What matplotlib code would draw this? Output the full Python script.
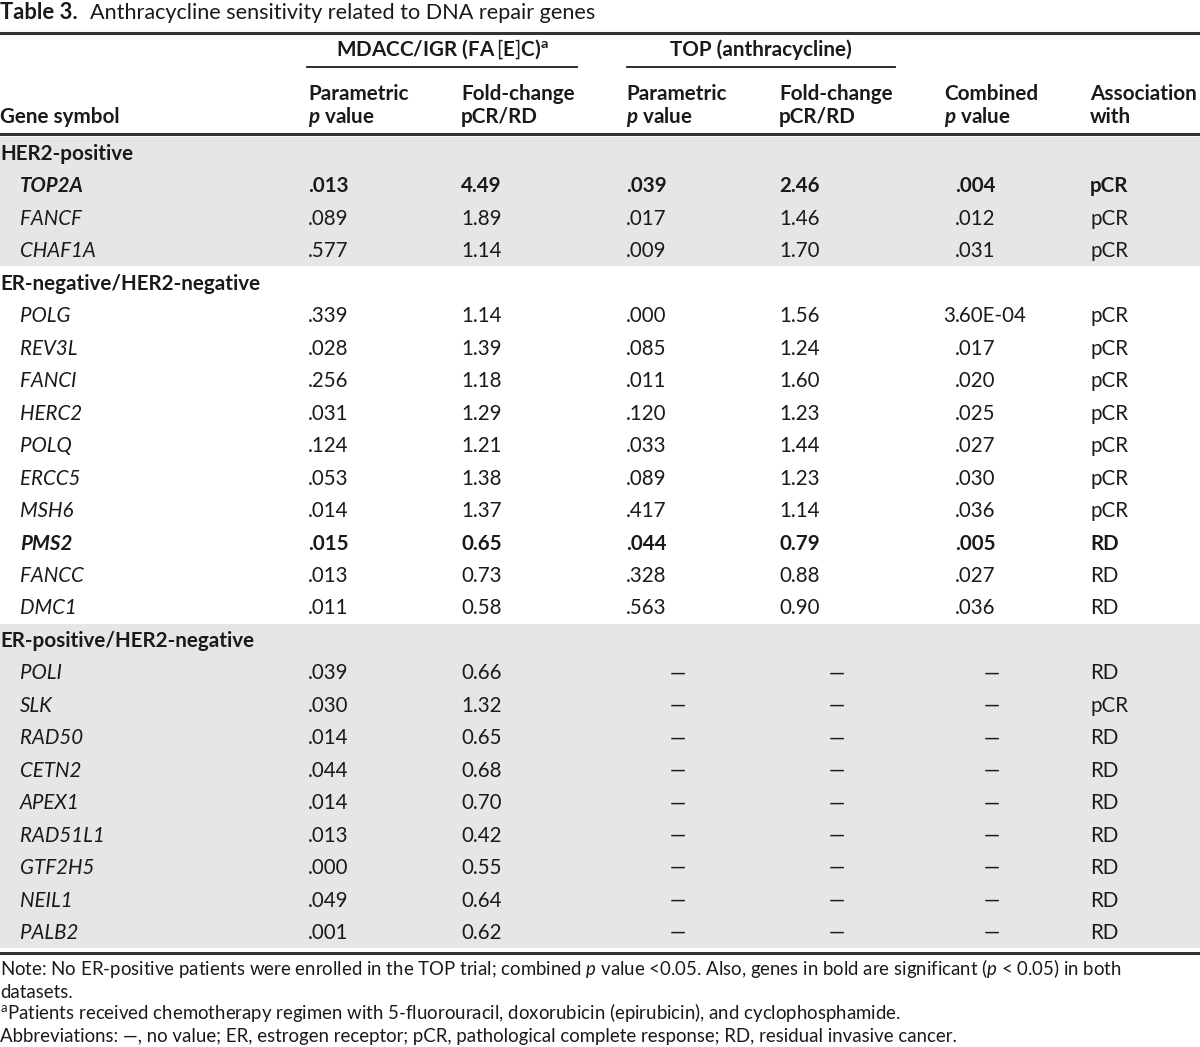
import matplotlib
matplotlib.use("Agg")
import matplotlib.pyplot as plt

plt.rcParams['font.family'] = ['Lato', 'DejaVu Sans']
plt.rcParams['mathtext.fontset'] = 'custom'
plt.rcParams['mathtext.rm'] = 'Lato'
plt.rcParams['mathtext.it'] = 'Lato:italic'
plt.rcParams['mathtext.bf'] = 'Lato:bold'
plt.rcParams['mathtext.bfit'] = 'Lato:italic:bold'

# table content
group_names = ["HER2-positive", "ER-negative/HER2-negative", "ER-positive/HER2-negative"]
group_shaded = [True, False, True]
genes = ["TOP2A", "FANCF", "CHAF1A",
         "POLG", "REV3L", "FANCI", "HERC2", "POLQ", "ERCC5", "MSH6", "PMS2", "FANCC", "DMC1",
         "POLI", "SLK", "RAD50", "CETN2", "APEX1", "RAD51L1", "GTF2H5", "NEIL1", "PALB2"]
gene_group = [0, 0, 0,
              1, 1, 1, 1, 1, 1, 1, 1, 1, 1,
              2, 2, 2, 2, 2, 2, 2, 2, 2]
mdacc_p = [".013", ".089", ".577",
           ".339", ".028", ".256", ".031", ".124", ".053", ".014", ".015", ".013", ".011",
           ".039", ".030", ".014", ".044", ".014", ".013", ".000", ".049", ".001"]
mdacc_fc = ["4.49", "1.89", "1.14",
            "1.14", "1.39", "1.18", "1.29", "1.21", "1.38", "1.37", "0.65", "0.73", "0.58",
            "0.66", "1.32", "0.65", "0.68", "0.70", "0.42", "0.55", "0.64", "0.62"]
top_p = [".039", ".017", ".009",
         ".000", ".085", ".011", ".120", ".033", ".089", ".417", ".044", ".328", ".563",
         None, None, None, None, None, None, None, None, None]
top_fc = ["2.46", "1.46", "1.70",
          "1.56", "1.24", "1.60", "1.23", "1.44", "1.23", "1.14", "0.79", "0.88", "0.90",
          None, None, None, None, None, None, None, None, None]
combined_p = [".004", ".012", ".031",
              "3.60E-04", ".017", ".020", ".025", ".027", ".030", ".036", ".005", ".027", ".036",
              None, None, None, None, None, None, None, None, None]
association = ["pCR", "pCR", "pCR",
               "pCR", "pCR", "pCR", "pCR", "pCR", "pCR", "pCR", "RD", "RD", "RD",
               "RD", "pCR", "RD", "RD", "RD", "RD", "RD", "RD", "RD"]
bold_genes = ["TOP2A", "PMS2"]

footnotes = [
    r"Note: No ER-positive patients were enrolled in the TOP trial; combined $\mathit{p}$ value <0.05. "
    r"Also, genes in bold are significant ($\mathit{p}$ < 0.05) in both",
    "datasets.",
    r"$^{\mathrm{a}}$Patients received chemotherapy regimen with 5-fluorouracil, doxorubicin (epirubicin), and cyclophosphamide.",
    "Abbreviations: \u2014, no value; ER, estrogen receptor; pCR, pathological complete response; RD, residual invasive cancer.",
]

ink = "#1a1a1a"
shade = "#e6e6e6"
body_size = 14.8
head_size = 14.9

fig = plt.figure(figsize=(12, 10.47), dpi=100)
ax = fig.add_axes([0, 0, 1, 1])
ax.set_xlim(0, 1200)
ax.set_ylim(1047, 0)
ax.axis('off')

# column x positions (pixels)
col_x = [308, 461, 626, 779, 955, 1090]
dash_x = [678, 837, 992]

# title
ax.text(0, 19, "Table 3.", fontsize=15.8, fontweight='bold', color=ink, va='baseline')
ax.text(90, 19, "Anthracycline sensitivity related to DNA repair genes", fontsize=15.6,
        color=ink, va='baseline')

# rules
ax.plot([0, 1200], [33, 33], color="#333333", lw=2.2)
ax.plot([0, 1200], [134, 134], color="#333333", lw=2.2)
ax.plot([0, 1200], [953, 953], color="#333333", lw=2.2)
ax.plot([307, 577], [67, 67], color=ink, lw=1.3)
ax.plot([627, 895], [67, 67], color=ink, lw=1.3)

# headers
ax.text(442, 56, r"MDACC/IGR (FA$\,\mathrm{[}\mathbf{E}\mathrm{]}$C)$^{\mathbf{a}}$", fontsize=head_size,
        fontweight='bold', color=ink, ha='center', va='baseline')
ax.text(761, 56, "TOP (anthracycline)", fontsize=head_size, fontweight='bold', color=ink,
        ha='center', va='baseline')
hdr_top = ["Parametric", "Fold-change", "Parametric", "Fold-change", "Combined", "Association"]
hdr_bot = [r"$\mathbfit{p}$ value", "pCR/RD", r"$\mathbfit{p}$ value", "pCR/RD", r"$\mathbfit{p}$ value", "with"]
hdr_x = [308, 461, 626, 779, 944, 1090]
for x, t1, t2 in zip(hdr_x, hdr_top, hdr_bot):
    ax.text(x, 100, t1, fontsize=head_size, fontweight='bold', color=ink, va='baseline')
    ax.text(x, 123, t2, fontsize=head_size, fontweight='bold', color=ink, va='baseline')
ax.text(0, 123, "Gene symbol", fontsize=head_size, fontweight='bold', color=ink, va='baseline')

# body rows
y0 = 153
step = 32.46
row = 0
for g, name in enumerate(group_names):
    idx = [i for i, gg in enumerate(gene_group) if gg == g]
    y_start = y0 + row * step
    y_end = y0 + (row + len(idx)) * step
    if group_shaded[g]:
        ax.axhspan(y_start - 16, y_end + 16, color=shade, zorder=0, lw=0)
    ax.text(0, y_start + 7, name, fontsize=head_size, fontweight='bold', color=ink, va='baseline')
    row += 1
    for i in idx:
        y = y0 + row * step + 7
        w = 'bold' if genes[i] in bold_genes else 'normal'
        ax.text(20, y, genes[i], fontsize=body_size, fontstyle='italic', fontweight=w,
                color=ink, va='baseline')
        ax.text(col_x[0], y, mdacc_p[i], fontsize=body_size, fontweight=w, color=ink, va='baseline')
        ax.text(col_x[1], y, mdacc_fc[i], fontsize=body_size, fontweight=w, color=ink, va='baseline')
        if top_p[i] is None:
            for dx in dash_x:
                ax.text(dx, y, "\u2014", fontsize=body_size, color=ink, ha='center', va='baseline')
        else:
            ax.text(col_x[2], y, top_p[i], fontsize=body_size, fontweight=w, color=ink, va='baseline')
            ax.text(col_x[3], y, top_fc[i], fontsize=body_size, fontweight=w, color=ink, va='baseline')
            # align on the decimal point
            head, tail = combined_p[i].split(".", 1)
            if head:
                ax.text(col_x[4], y, head, fontsize=body_size, fontweight=w, color=ink,
                        ha='right', va='baseline')
            ax.text(col_x[4], y, "." + tail, fontsize=body_size, fontweight=w, color=ink,
                    va='baseline')
        ax.text(col_x[5], y, association[i], fontsize=body_size, fontweight=w, color=ink,
                va='baseline')
        row += 1

# footnotes
foot_y = [975, 998, 1019, 1042]
for y, t in zip(foot_y, footnotes):
    ax.text(0, y, t, fontsize=13.4, color=ink, va='baseline')

fig.savefig("out.png", dpi=100)
